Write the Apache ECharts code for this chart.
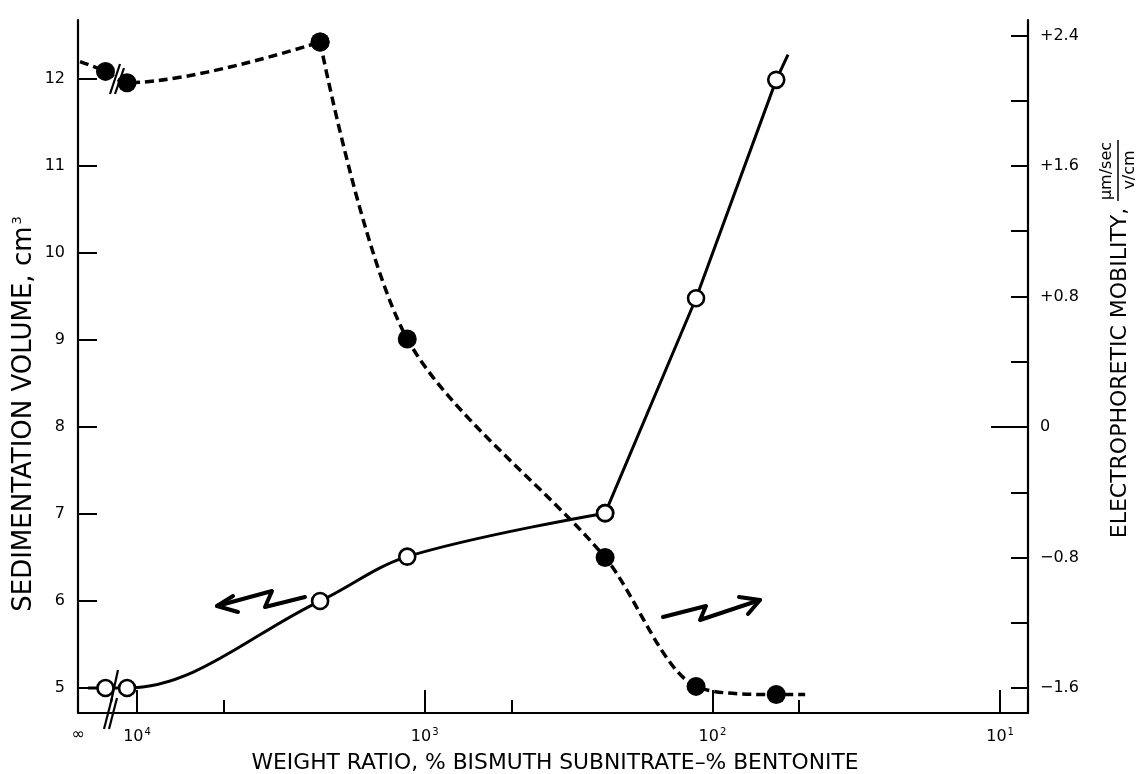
<!DOCTYPE html>
<html><head><meta charset="utf-8">
<script src="https://cdn.jsdelivr.net/npm/echarts@6/dist/echarts.min.js"></script>
<style>html,body{margin:0;padding:0;background:#fff}#c{width:1139px;height:774px}</style>
</head><body><div id="c"></div>
<script>
// ---------------- data ----------------
// weight ratio % bismuth subnitrate / % bentonite; first entry is the "∞" sample drawn beyond 10^4
const weightRatio = [12870, 10830, 2310, 1150, 236, 114, 60];
const sedimentationVolume = [5.0, 5.0, 6.0, 6.51, 7.01, 9.48, 11.99];      // cm^3, open circles
const electrophoreticMobility = [2.18, 2.11, 2.36, 0.54, -0.80, -1.59, -1.64]; // µm/sec per v/cm, filled circles
// where the drawn curves run past the first / last points
const sedimentationLineEnds = [[14800, 5.0], [54.6, 12.28]];
const mobilityLineEnds = [[15780, 2.24], [47.6, -1.64]];
// axis ticks and labels
const ratioTicksMajor = [10000, 1000, 100, 10];
const ratioTicksMinor = [5000, 500, 50];
const infinityPos = 16000;
const volumeTicks = [5, 6, 7, 8, 9, 10, 11, 12];
const mobilityTicks = [-1.6, -1.2, -0.8, -0.4, 0, 0.4, 0.8, 1.2, 1.6, 2.0, 2.4];
const mobilityLabels = [-1.6, -0.8, 0, 0.8, 1.6, 2.4];

// ---------------- chart ----------------
const FONT = 'DejaVu Sans';
const X_MIN = 8.0, X_MAX = 16037;
const L_MIN = 4.713, L_MAX = 12.678;
const toRight = l => -1.6 + (l - 5) * (1.6 / 3);
const R_MIN = toRight(L_MIN), R_MAX = toRight(L_MAX);

const pts = (ys, a, b) => weightRatio.slice(a, b).map((x, i) => [x, ys[a + i]]);
const noSym = p => ({ value: p, symbol: 'none' });

const chart = echarts.init(document.getElementById('c'), null, { renderer: 'canvas' });

const openStyle = {
  type: 'line', xAxisIndex: 0, yAxisIndex: 0,
  symbol: 'circle', symbolSize: 16,
  itemStyle: { color: '#fff', borderColor: '#000', borderWidth: 2.6 },
  lineStyle: { color: '#000', width: 3 },
  z: 4, animation: false
};
const filledStyle = {
  type: 'line', xAxisIndex: 0, yAxisIndex: 1,
  symbol: 'circle', symbolSize: 19,
  itemStyle: { color: '#000', borderColor: '#000', borderWidth: 0 },
  lineStyle: { color: '#000', width: 3.5, type: [9, 5] },
  z: 3, animation: false
};

const xAxisBase = {
  type: 'log', logBase: 10, inverse: true, min: X_MIN, max: X_MAX,
  gridIndex: 0, position: 'bottom', splitLine: { show: false }
};

chart.setOption({
  animation: false,
  backgroundColor: '#fff',
  grid: { left: 78, right: 111, top: 20, bottom: 61, containLabel: false },
  xAxis: [
    Object.assign({}, xAxisBase, {
      axisLine: { show: true, onZero: false, lineStyle: { color: '#000', width: 2.2 } },
      axisTick: { show: true, inside: true, length: 23, customValues: ratioTicksMajor, lineStyle: { color: '#000', width: 2 } },
      axisLabel: {
        show: true, margin: 14, customValues: [infinityPos].concat(ratioTicksMajor),
        color: '#000', fontFamily: FONT, fontSize: 16,
        formatter: v => v > 15000 ? '{b|∞}' : '{b|10}{s|' + Math.round(Math.log10(v)) + '}',
        rich: {
          b: { fontFamily: FONT, fontSize: 16, color: '#000' },
          s: { fontFamily: FONT, fontSize: 10, color: '#000', padding: [0, 0, 9, 1] }
        }
      }
    }),
    Object.assign({}, xAxisBase, {
      axisLine: { show: false, onZero: false },
      axisTick: { show: true, inside: true, length: 13, customValues: ratioTicksMinor, lineStyle: { color: '#000', width: 2 } },
      axisLabel: { show: false }
    })
  ],
  yAxis: [
    {
      type: 'value', min: L_MIN, max: L_MAX, position: 'left',
      splitLine: { show: false },
      axisLine: { show: true, onZero: false, lineStyle: { color: '#000', width: 2.2 } },
      axisTick: { show: true, inside: true, length: 19, customValues: volumeTicks, lineStyle: { color: '#000', width: 2 } },
      axisLabel: { show: true, margin: 13, customValues: volumeTicks, color: '#000', fontFamily: FONT, fontSize: 16 }
    },
    {
      type: 'value', min: R_MIN, max: R_MAX, position: 'right',
      splitLine: { show: false },
      axisLine: { show: true, onZero: false, lineStyle: { color: '#000', width: 2.2 } },
      axisTick: { show: true, inside: true, length: 17, customValues: mobilityTicks, lineStyle: { color: '#000', width: 2 } },
      axisLabel: {
        show: true, margin: 12, customValues: mobilityLabels, color: '#000', fontFamily: FONT, fontSize: 16,
        formatter: v => v > 0.001 ? '+' + v.toFixed(1) : (v < -0.001 ? '\u2212' + Math.abs(v).toFixed(1) : '0')
      }
    }
  ],
  series: [
    Object.assign({}, openStyle, {
      name: 'volume-curve', smooth: 0.35,
      data: [noSym(sedimentationLineEnds[0])].concat(pts(sedimentationVolume, 0, 5))
    }),
    Object.assign({}, openStyle, {
      name: 'volume-straight', smooth: false,
      data: pts(sedimentationVolume, 4, 7).concat([noSym(sedimentationLineEnds[1])])
    }),
    Object.assign({}, filledStyle, {
      name: 'mobility-a', smooth: 0.35,
      data: [noSym(mobilityLineEnds[0])].concat(pts(electrophoreticMobility, 0, 3))
    }),
    Object.assign({}, filledStyle, {
      name: 'mobility-b', smooth: 0.3,
      data: pts(electrophoreticMobility, 2, 7).concat([noSym(mobilityLineEnds[1])])
    })
  ]
});

// ---------------- decorations: axis titles, break marks, arrows ----------------
const y0 = chart.convertToPixel({ yAxisIndex: 1 }, 0);
const rightX = chart.convertToPixel({ xAxisIndex: 0 }, X_MIN);
const line = (x1, y1, x2, y2, w) => ({
  type: 'line', shape: { x1, y1, x2, y2 }, style: { stroke: '#000', lineWidth: w || 2 }, z: 10
});
const poly = (points, w) => ({
  type: 'polyline', shape: { points }, style: { stroke: '#000', fill: null, lineWidth: w || 4, lineJoin: 'round', lineCap: 'round' }, z: 10
});

chart.setOption({
  graphic: [
    // x axis title
    { type: 'text', x: 555, y: 763, z: 10,
      style: { text: 'WEIGHT RATIO, % BISMUTH SUBNITRATE\u2013% BENTONITE', fontFamily: FONT, fontSize: 21.8,
               fill: '#000', align: 'center', verticalAlign: 'middle' } },
    // left y title
    { type: 'text', x: 24, y: 414, rotation: Math.PI / 2, z: 10,
      style: { text: '{a|SEDIMENTATION VOLUME, cm}{s|3}', align: 'center', verticalAlign: 'middle',
               rich: { a: { fontFamily: FONT, fontSize: 26, fill: '#000' },
                       s: { fontFamily: FONT, fontSize: 13, fill: '#000', padding: [0, 0, 13, 2] } } } },
    // right y title
    { type: 'text', x: 1120, y: 373, rotation: Math.PI / 2, z: 10,
      style: { text: 'ELECTROPHORETIC MOBILITY,', fontFamily: FONT, fontSize: 22, fill: '#000',
               align: 'center', verticalAlign: 'middle' } },
    { type: 'text', x: 1107, y: 171, rotation: Math.PI / 2, z: 10,
      style: { text: '\u03bcm/sec', fontFamily: FONT, fontSize: 16, fill: '#000', align: 'center', verticalAlign: 'middle' } },
    line(1118, 140, 1118, 201, 1.5),
    { type: 'text', x: 1130, y: 170, rotation: Math.PI / 2, z: 10,
      style: { text: 'v/cm', fontFamily: FONT, fontSize: 16, fill: '#000', align: 'center', verticalAlign: 'middle' } },
    // longer zero tick on right axis
    line(rightX - 37, y0, rightX, y0, 2),
    // axis-break marks
    line(110, 94, 120, 64, 2.2), line(115, 94, 124, 68, 2.2),
    line(111, 702, 118, 670, 2.2),
    line(104, 729, 112, 698, 2.2), line(109, 729, 117, 698, 2.2),
    // left-pointing arrow (open circles -> left axis)
    poly([[305, 597], [265, 607], [272, 591], [217, 606]], 4),
    poly([[233, 596], [217, 606], [238, 612]], 4),
    // right-pointing arrow (filled circles -> right axis)
    poly([[663, 617], [706, 606], [700, 620], [760, 600]], 4),
    poly([[739, 597], [760, 600], [748, 614]], 4)
  ]
});
</script>
</body></html>
